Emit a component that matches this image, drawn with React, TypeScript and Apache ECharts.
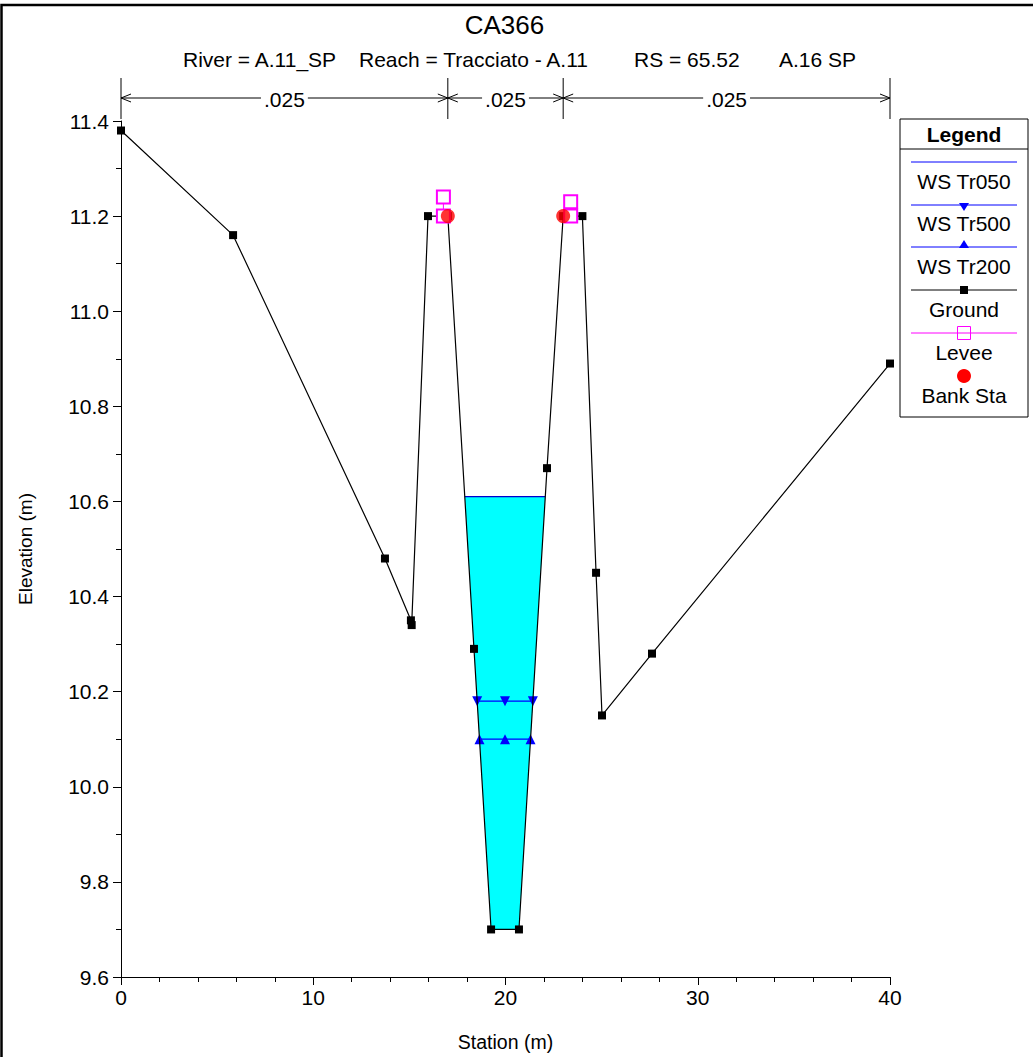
import React, { useEffect, useRef } from "react";
import * as echarts from "echarts";

const GROUND_X = [0, 5.83, 13.73, 15.08, 15.12, 15.97, 17.0, 18.36, 19.25, 20.7, 22.16, 23.0, 24.0, 24.71, 25.02, 27.62, 40];
const GROUND_Y = [11.38, 11.16, 10.48, 10.35, 10.34, 11.2, 11.2, 10.29, 9.7, 9.7, 10.67, 11.2, 11.2, 10.45, 10.15, 10.28, 10.89];

const WS_NAMES = ["WS Tr050", "WS Tr500", "WS Tr200"];
const WS_LEVELS = [10.61, 10.18, 10.1];

const LEVEE_X = [16.77, 16.77, 23.39, 23.39];
const LEVEE_Y = [11.24, 11.2, 11.23, 11.2];

const BANK_X = [17, 23];
const BANK_Y = [11.2, 11.2];

const N_BREAKS = [0, 17, 23, 40];
const N_VALUES = [".025", ".025", ".025"];

const X_TICKS = { min: 0, max: 40, interval: 10 };
const Y_TICKS = { min: 9.6, max: 11.4, interval: 0.2 };

const FONT = "'Liberation Sans', Arial, sans-serif";

const ground: number[][] = GROUND_X.map((x, i) => [x, GROUND_Y[i]]);

function crossings(level: number): [number, number] {
  let left = NaN;
  let right = NaN;
  for (let i = 0; i < ground.length - 1; i++) {
    const [x1, y1] = ground[i];
    const [x2, y2] = ground[i + 1];
    if (x1 < BANK_X[0] || x2 > BANK_X[1]) continue;
    if (y1 >= level && y2 < level && isNaN(left)) {
      left = x1 + ((x2 - x1) * (y1 - level)) / (y1 - y2);
    }
    if (y1 < level && y2 >= level) {
      right = x1 + ((x2 - x1) * (level - y1)) / (y2 - y1);
    }
  }
  return [left, right];
}

function waterPolygon(level: number): number[][] {
  const [l, r] = crossings(level);
  const pts: number[][] = [[l, level]];
  ground.forEach(([x, y]) => {
    if (x > l && x < r && y < level) pts.push([x, y]);
  });
  pts.push([r, level]);
  return pts;
}

function wsData(level: number, withMid: boolean): number[][] {
  const [l, r] = crossings(level);
  if (!withMid) return [[l, level], [r, level]];
  return [[l, level], [(l + r) / 2, level], [r, level]];
}

export default function App() {
  const ref = useRef<HTMLDivElement>(null);

  useEffect(() => {
    if (!ref.current) return;
    const chart = echarts.init(ref.current, null, { renderer: "svg" });
    const poly = waterPolygon(WS_LEVELS[0]);
    const gridLeft = 121;
    const gridTop = 121;
    const gridRight = 143;
    const gridBottom = 70;

    chart.setOption({
      animation: false,
      backgroundColor: "#ffffff",
      textStyle: { fontFamily: FONT },
      grid: { left: gridLeft, right: gridRight, top: gridTop, bottom: gridBottom, containLabel: false },
      xAxis: {
        type: "value",
        min: X_TICKS.min,
        max: X_TICKS.max,
        interval: X_TICKS.interval,
        name: "Station (m)",
        nameLocation: "middle",
        nameGap: 55,
        nameTextStyle: { fontSize: 19.5, color: "#000", fontFamily: FONT },
        axisLine: { show: true, onZero: false, lineStyle: { color: "#000", width: 1 } },
        axisTick: { show: true, inside: false, length: 8, lineStyle: { color: "#000" } },
        minorTick: { show: true, splitNumber: 5, length: 5, lineStyle: { color: "#000" } },
        axisLabel: { fontSize: 21, color: "#000", margin: 10, fontFamily: FONT },
        splitLine: { show: false },
      },
      yAxis: {
        type: "value",
        min: Y_TICKS.min,
        max: Y_TICKS.max,
        interval: Y_TICKS.interval,
        name: "Elevation (m)",
        nameLocation: "middle",
        nameGap: 86,
        nameRotate: 90,
        nameTextStyle: { fontSize: 19, color: "#000", fontFamily: FONT },
        axisLine: { show: true, onZero: false, lineStyle: { color: "#000", width: 1 } },
        axisTick: { show: true, inside: false, length: 8, lineStyle: { color: "#000" } },
        minorTick: { show: true, splitNumber: 2, length: 5, lineStyle: { color: "#000" } },
        axisLabel: {
          fontSize: 21,
          color: "#000",
          margin: 12,
          fontFamily: FONT,
          formatter: (v: number) => v.toFixed(1),
        },
        splitLine: { show: false },
      },
      series: [
        {
          type: "custom",
          name: "water",
          silent: true,
          data: [[0, 0]],
          z: 1,
          renderItem: (_params: any, api: any) => {
            const pts = poly.map((p) => api.coord(p));
            return { type: "polygon", shape: { points: pts }, style: { fill: "#00ffff", stroke: "none" } };
          },
        },
        {
          type: "line",
          name: WS_NAMES[0],
          data: wsData(WS_LEVELS[0], false),
          symbol: "none",
          lineStyle: { color: "#0000cc", width: 1.3 },
          z: 3,
        },
        {
          type: "line",
          name: WS_NAMES[1],
          data: wsData(WS_LEVELS[1], true),
          symbol: "triangle",
          symbolRotate: 180,
          symbolSize: 10,
          itemStyle: { color: "#0000ff" },
          lineStyle: { color: "#0000ff", width: 1.2 },
          z: 3,
        },
        {
          type: "line",
          name: WS_NAMES[2],
          data: wsData(WS_LEVELS[2], true),
          symbol: "triangle",
          symbolSize: 10,
          itemStyle: { color: "#0000ff" },
          lineStyle: { color: "#0000ff", width: 1.2 },
          z: 3,
        },
        {
          type: "line",
          name: "Ground",
          data: ground,
          symbol: "rect",
          symbolSize: 8,
          itemStyle: { color: "#000" },
          lineStyle: { color: "#000", width: 1.2 },
          z: 4,
        },
        {
          type: "line",
          name: "Levee",
          data: [
            [LEVEE_X[0], LEVEE_Y[0]],
            [LEVEE_X[1], LEVEE_Y[1]],
            "-",
            [LEVEE_X[2], LEVEE_Y[2]],
            [LEVEE_X[3], LEVEE_Y[3]],
          ],
          connectNulls: false,
          symbol: "emptyRect",
          symbolSize: 13,
          showAllSymbol: true,
          itemStyle: { color: "#ff00ff", borderColor: "#ff00ff", borderWidth: 1 },
          lineStyle: { color: "#ff00ff", width: 1 },
          z: 5,
        },
        {
          type: "scatter",
          name: "Bank Sta",
          data: BANK_X.map((x, i) => [x, BANK_Y[i]]),
          symbol: "circle",
          symbolSize: 14,
          itemStyle: { color: "#ff0000" },
          z: 6,
        },
      ],
    });

    const px = (x: number, y: number) => chart.convertToPixel({ xAxisIndex: 0, yAxisIndex: 0 }, [x, y]) as number[];
    const xLeft = px(X_TICKS.min, Y_TICKS.max)[0];
    const xRight = px(X_TICKS.max, Y_TICKS.max)[0];
    const plotTop = px(X_TICKS.min, Y_TICKS.max)[1];
    const centerX = (xLeft + xRight) / 2;
    const arrowY = plotTop - 23;
    const graphics: any[] = [];
    const stroke = { stroke: "#000", lineWidth: 1 };

    graphics.push({
      type: "rect",
      shape: { x: 1.5, y: 5, width: 1200, height: 1200 },
      style: { fill: "none", stroke: "#000", lineWidth: 2.5 },
      silent: true,
      z: 100,
    });

    graphics.push({
      type: "text",
      x: centerX - 1,
      y: 25,
      style: { text: "CA366", fontSize: 26, fill: "#000", fontFamily: FONT, align: "center", verticalAlign: "middle" },
    });
    const subs = [
      { t: "River = A.11_SP", x: 183 },
      { t: "Reach = Tracciato - A.11", x: 359 },
      { t: "RS = 65.52", x: 634 },
      { t: "A.16 SP", x: 779 },
    ];
    subs.forEach((s) =>
      graphics.push({
        type: "text",
        x: s.x,
        y: 59,
        style: { text: s.t, fontSize: 21, fill: "#000", fontFamily: FONT, align: "left", verticalAlign: "middle" },
      })
    );

    N_BREAKS.forEach((b) => {
      const x = px(b, Y_TICKS.max)[0];
      graphics.push({ type: "line", shape: { x1: x, y1: arrowY - 20, x2: x, y2: plotTop - 2 }, style: stroke });
    });
    for (let i = 0; i < N_VALUES.length; i++) {
      const a = px(N_BREAKS[i], Y_TICKS.max)[0];
      const b = px(N_BREAKS[i + 1], Y_TICKS.max)[0];
      graphics.push({ type: "line", shape: { x1: a, y1: arrowY, x2: b, y2: arrowY }, style: stroke });
      graphics.push({
        type: "polyline",
        shape: { points: [[a + 10, arrowY - 4], [a, arrowY], [a + 10, arrowY + 4]] },
        style: { ...stroke, fill: "none" },
      });
      graphics.push({
        type: "polyline",
        shape: { points: [[b - 10, arrowY - 4], [b, arrowY], [b - 10, arrowY + 4]] },
        style: { ...stroke, fill: "none" },
      });
      graphics.push({
        type: "text",
        x: (a + b) / 2,
        y: arrowY + 1,
        z: 10,
        style: {
          text: N_VALUES[i],
          fontSize: 21,
          fill: "#000",
          fontFamily: FONT,
          align: "center",
          verticalAlign: "middle",
          backgroundColor: "#fff",
          padding: [0, 3],
        },
      });
    }

    const lx = 900;
    const ly = 119;
    const lw = 128;
    const lh = 298;
    const lcx = lx + lw / 2;
    graphics.push({
      type: "rect",
      shape: { x: lx, y: ly, width: lw, height: lh },
      style: { fill: "#fff", stroke: "#000", lineWidth: 1 },
      z: 20,
    });
    graphics.push({
      type: "line",
      shape: { x1: lx, y1: 149, x2: lx + lw, y2: 149 },
      style: stroke,
      z: 21,
    });
    graphics.push({
      type: "text",
      x: lcx,
      y: 134,
      z: 21,
      style: { text: "Legend", fontSize: 21, fontWeight: "bold", fill: "#000", fontFamily: FONT, align: "center", verticalAlign: "middle" },
    });
    const items = [
      { name: WS_NAMES[0], lineY: 162, textY: 181, color: "#0000ff", marker: "none" },
      { name: WS_NAMES[1], lineY: 205, textY: 223, color: "#0000ff", marker: "tridown" },
      { name: WS_NAMES[2], lineY: 247, textY: 266, color: "#0000ff", marker: "triup" },
      { name: "Ground", lineY: 290, textY: 309, color: "#000000", marker: "square" },
      { name: "Levee", lineY: 333, textY: 352, color: "#ff00ff", marker: "emptysquare" },
      { name: "Bank Sta", lineY: 376, textY: 395, color: "#ff0000", marker: "circle" },
    ];
    items.forEach((it) => {
      if (it.marker !== "circle") {
        graphics.push({
          type: "line",
          z: 21,
          shape: { x1: 911, y1: it.lineY, x2: 1017, y2: it.lineY },
          style: { stroke: it.color, lineWidth: 1 },
        });
      }
      const y = it.lineY;
      if (it.marker === "tridown") {
        graphics.push({ type: "polygon", z: 22, shape: { points: [[lcx - 5, y - 2], [lcx + 5, y - 2], [lcx, y + 6]] }, style: { fill: it.color } });
      } else if (it.marker === "triup") {
        graphics.push({ type: "polygon", z: 22, shape: { points: [[lcx - 5, y + 1], [lcx + 5, y + 1], [lcx, y - 7]] }, style: { fill: it.color } });
      } else if (it.marker === "square") {
        graphics.push({ type: "rect", z: 22, shape: { x: lcx - 4, y: y - 4, width: 8, height: 8 }, style: { fill: "#000" } });
      } else if (it.marker === "emptysquare") {
        graphics.push({ type: "rect", z: 22, shape: { x: lcx - 6.5, y: y - 6.5, width: 13, height: 13 }, style: { fill: "none", stroke: it.color, lineWidth: 1 } });
      } else if (it.marker === "circle") {
        graphics.push({ type: "circle", z: 22, shape: { cx: lcx, cy: y, r: 7 }, style: { fill: it.color } });
      }
      graphics.push({
        type: "text",
        x: lcx,
        y: it.textY,
        z: 22,
        style: { text: it.name, fontSize: 21, fill: "#000", fontFamily: FONT, align: "center", verticalAlign: "middle" },
      });
    });

    chart.setOption({ graphic: graphics });

    return () => chart.dispose();
  }, []);

  return (
    <div
      ref={ref}
      style={{ position: "absolute", left: 0, top: 0, width: 1033, height: 1057, background: "#fff" }}
    />
  );
}
